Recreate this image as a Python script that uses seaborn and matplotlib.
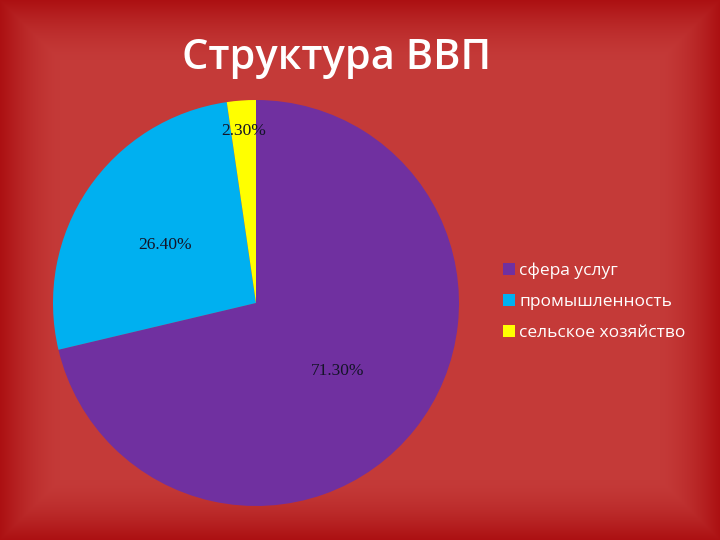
import numpy as np
import matplotlib
matplotlib.use("Agg")
import matplotlib.pyplot as plt
import seaborn as sns

# data
categories = ["сфера услуг", "промышленность", "сельское хозяйство"]
shares = [71.3, 26.4, 2.3]
slice_colors = ["#7030A0", "#00B0F0", "#FFFF00"]
label_dist = [0.51, 0.54, 0.87]

sns.set_theme(style="white")
plt.rcParams["font.family"] = ["Open Sans", "DejaVu Sans"]

fig = plt.figure(figsize=(7.2, 5.4), dpi=100)

# red slide background, darker band along the edges
bg = fig.add_axes([0, 0, 1, 1])
yy, xx = np.mgrid[0:540, 0:720]
edge_dist = np.minimum.reduce([xx, 719 - xx, yy, 539 - yy]).astype(float)
w = np.clip(1 - edge_dist / 60, 0, 1) ** 1.6
center = np.array([196, 58, 56]) / 255
edge = np.array([172, 16, 18]) / 255
img = center[None, None, :] * (1 - w[..., None]) + edge[None, None, :] * w[..., None]
bg.imshow(img, aspect="auto", extent=[0, 1, 0, 1])
bg.set_axis_off()

# pie
ax = fig.add_axes([53 / 720, 34 / 540, 406 / 720, 406 / 540])
wedges, _ = ax.pie(shares, colors=slice_colors, startangle=90, counterclock=False,
                   wedgeprops=dict(linewidth=0))
for wd, v, d in zip(wedges, shares, label_dist):
    ang = np.deg2rad((wd.theta1 + wd.theta2) / 2)
    ax.text(d * np.cos(ang), d * np.sin(ang) - 0.02, f"{v:.2f}%", ha="center", va="center",
            fontsize=12.5, family=["Liberation Serif", "DejaVu Serif"], color="#141428")
ax.set_xlim(-1, 1)
ax.set_ylim(-1, 1)
ax.set_aspect("equal")
ax.set_axis_off()

fig.text(337 / 720, 1 - 58 / 540, "Структура ВВП", ha="center", va="center",
         fontsize=30, color="white", fontweight="semibold")

leg = fig.legend(wedges, categories, loc="center left", bbox_to_anchor=(487 / 720, 1 - 302 / 540),
                 frameon=False, fontsize=12.5, handlelength=0.7, handleheight=0.7,
                 handletextpad=0.25, labelspacing=0.85)
for t in leg.get_texts():
    t.set_color("white")

fig.savefig("out.png", dpi=100)
